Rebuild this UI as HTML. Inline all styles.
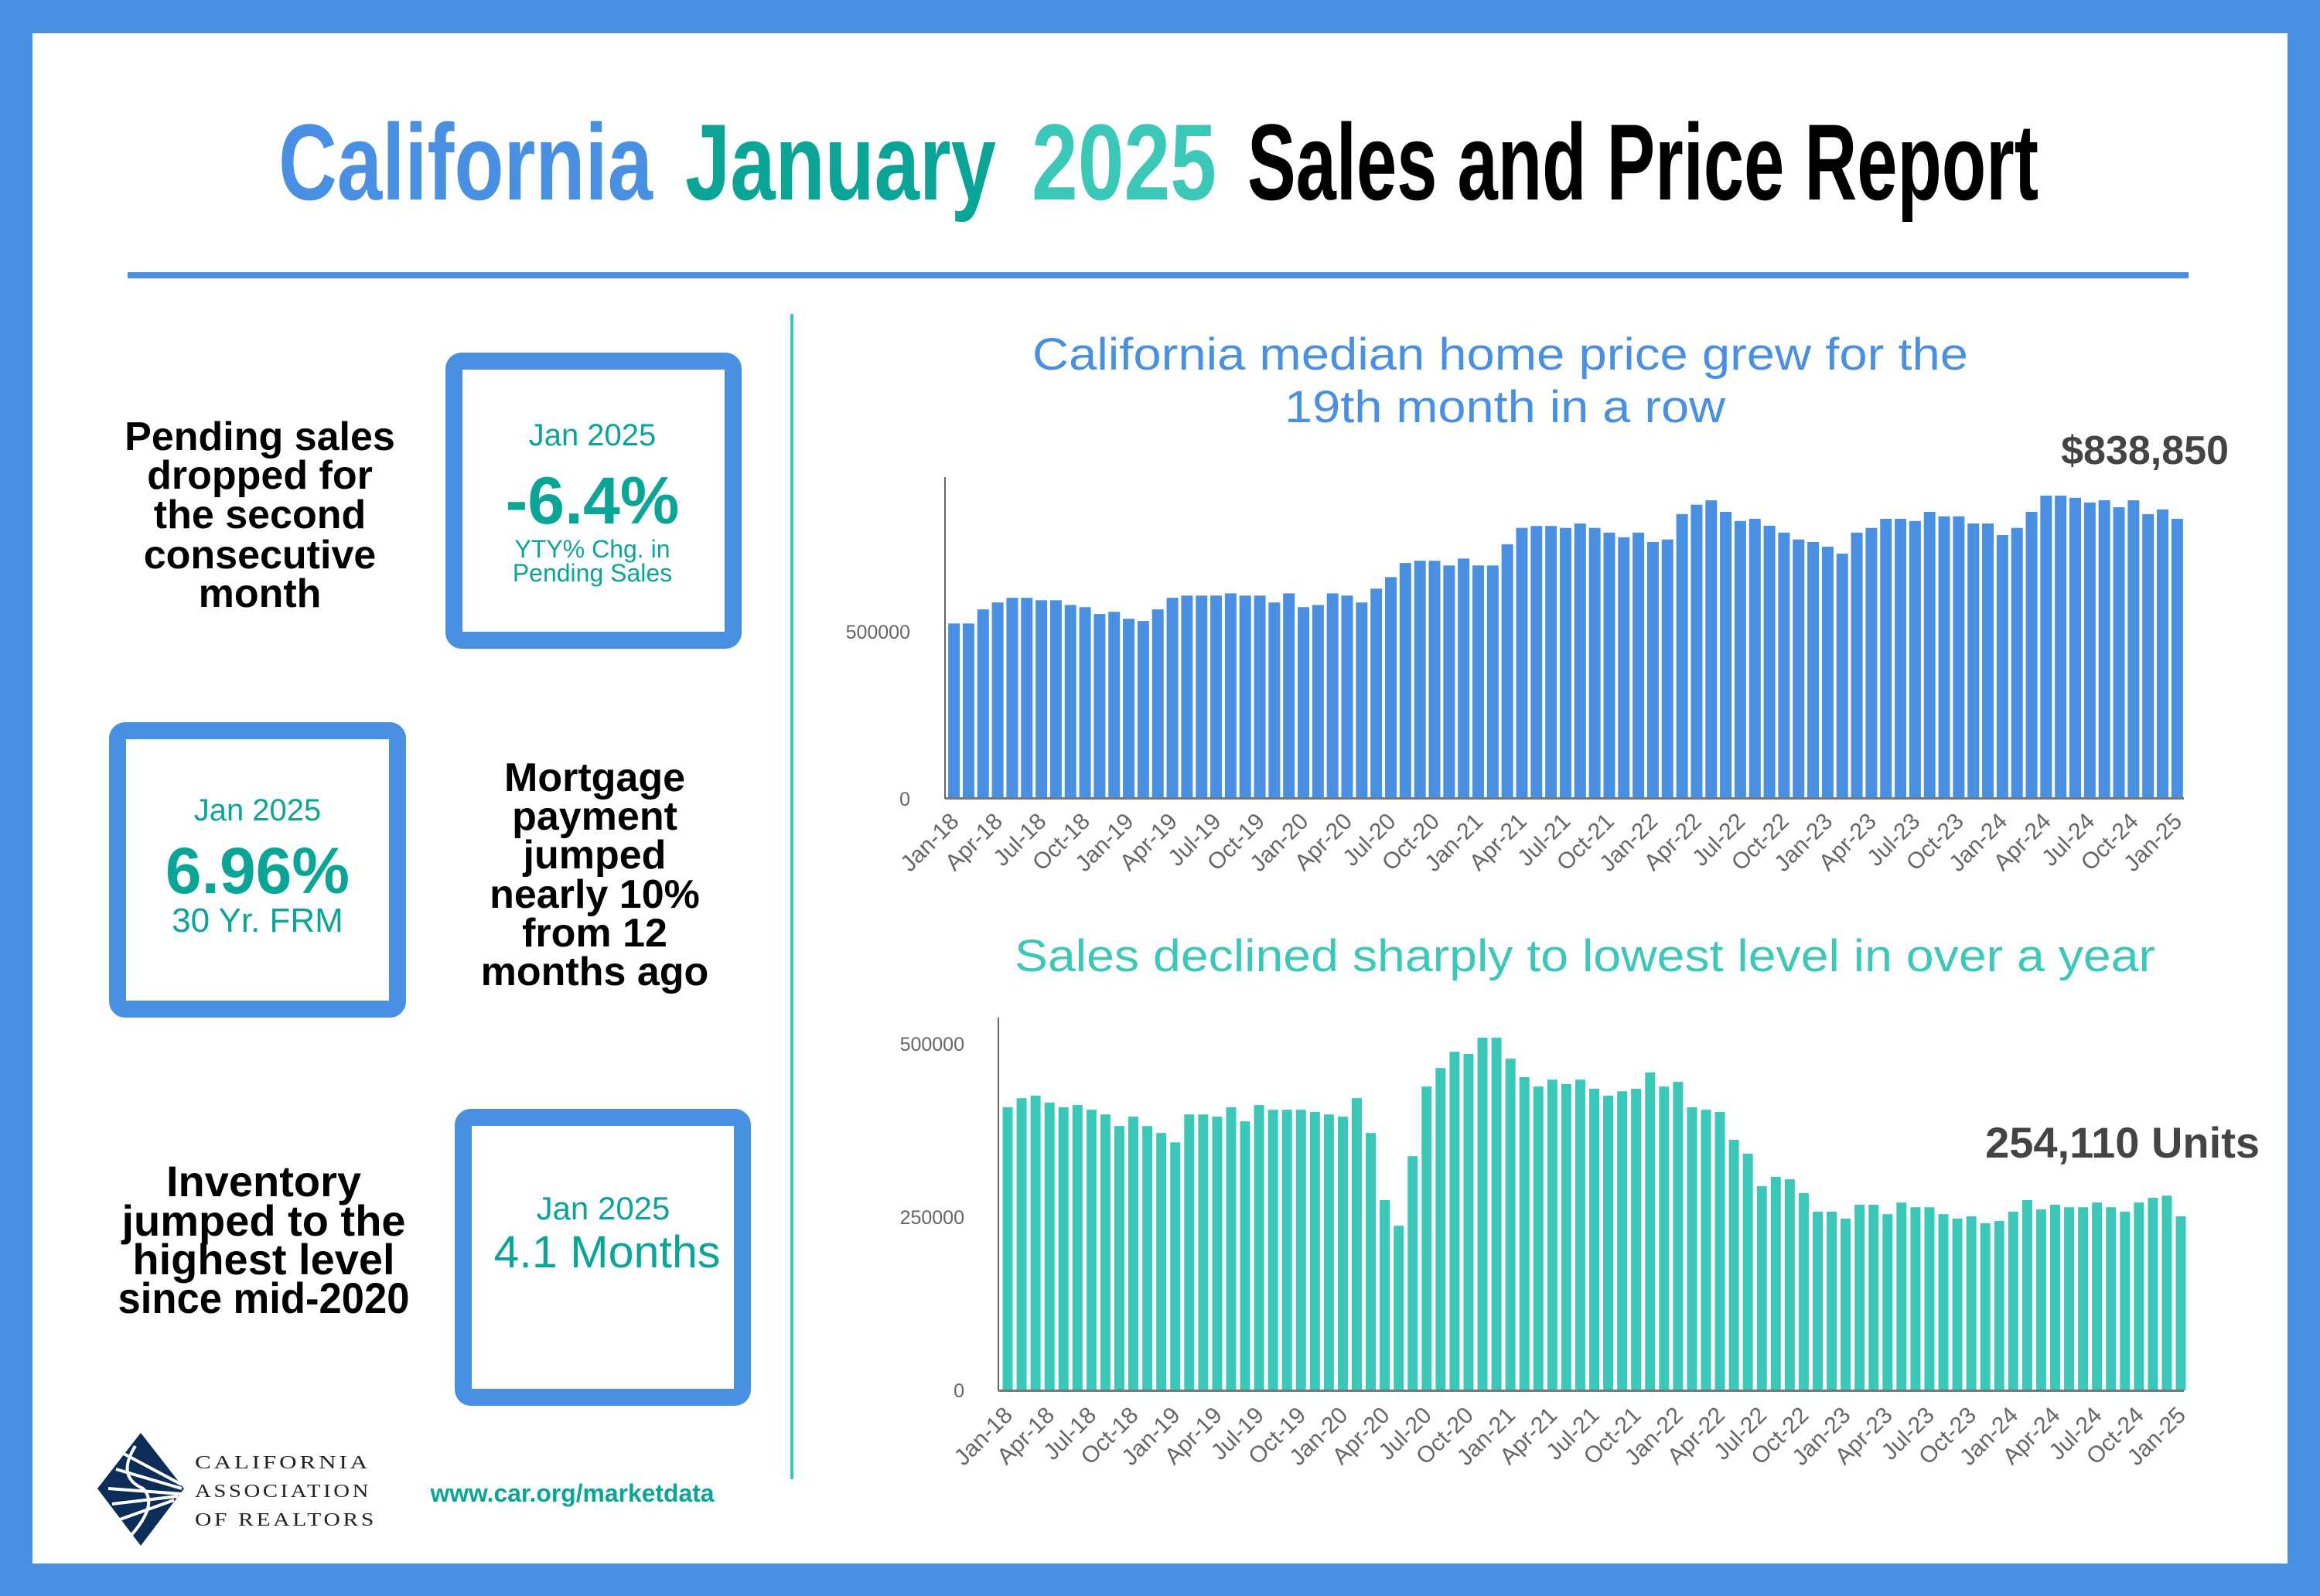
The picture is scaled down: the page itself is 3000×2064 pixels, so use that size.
<!DOCTYPE html>
<html><head><meta charset="utf-8">
<style>
html,body{margin:0;padding:0;background:#fff;}
svg{display:block;}
</style></head>
<body>
<svg id="s" xmlns="http://www.w3.org/2000/svg" width="3000" height="2064" viewBox="0 0 3000 2064">
<rect x="0" y="0" width="3000" height="2064" fill="#4A90E2"/>
<rect x="42" y="43" width="2916" height="1979" fill="#fff"/>
<g font-family="'Liberation Sans Narrow','Liberation Sans',sans-serif" font-weight="bold" font-size="140">
<text x="360" y="258" fill="#4A90E2" textLength="484" lengthAdjust="spacingAndGlyphs">California</text>
<text x="886" y="258" fill="#0AA596" textLength="402" lengthAdjust="spacingAndGlyphs">January</text>
<text x="1334" y="258" fill="#3CC8B8" textLength="239" lengthAdjust="spacingAndGlyphs">2025</text>
<text x="1613" y="258" fill="#000" textLength="1023" lengthAdjust="spacingAndGlyphs">Sales and Price Report</text>
</g>
<rect x="165" y="352" width="2665" height="8" fill="#4A90E2"/>
<rect x="1022" y="406" width="4" height="1507" fill="#3CC8B8"/>

<g font-family="'Liberation Sans',sans-serif" font-size="58" fill="#4A90E2">
<text x="1335" y="478" textLength="1210" lengthAdjust="spacingAndGlyphs">California median home price grew for the</text>
<text x="1661" y="546" textLength="570" lengthAdjust="spacingAndGlyphs">19th month in a row</text>
</g>
<text x="1312" y="1256" font-family="'Liberation Sans',sans-serif" font-size="58" fill="#3CC8B8" textLength="1475" lengthAdjust="spacingAndGlyphs">Sales declined sharply to lowest level in over a year</text>

<g font-family="'Liberation Sans',sans-serif" font-weight="bold" fill="#000" font-size="52" text-anchor="middle">
<text x="336" y="582">Pending sales</text>
<text x="336" y="632">dropped for</text>
<text x="336" y="683">the second</text>
<text x="336" y="735">consecutive</text>
<text x="336" y="785">month</text>
<text x="769" y="1023">Mortgage</text>
<text x="769" y="1073">payment</text>
<text x="769" y="1123">jumped</text>
<text x="769" y="1174">nearly 10%</text>
<text x="769" y="1224">from 12</text>
<text x="769" y="1274">months ago</text>
</g>
<g font-family="'Liberation Sans Narrow','Liberation Sans',sans-serif" font-weight="bold" fill="#000" font-size="56" text-anchor="middle">
<text x="341" y="1547">Inventory</text>
<text x="341" y="1598">jumped to the</text>
<text x="341" y="1648">highest level</text>
<text x="341" y="1698" textLength="377" lengthAdjust="spacingAndGlyphs">since mid-2020</text>
</g>

<g fill="none" stroke="#4A90E2" stroke-width="22">
<rect x="587" y="467" width="361" height="361" rx="10"/>
<rect x="152" y="945" width="362" height="360" rx="10"/>
<rect x="599" y="1445" width="361" height="362" rx="10"/>
</g>
<g font-family="'Liberation Sans',sans-serif" fill="#0AA596" text-anchor="middle">
<text x="766" y="576" font-size="40">Jan 2025</text>
<text x="766" y="677" font-size="86" font-weight="bold">-6.4%</text>
<text x="766" y="721" font-size="32">YTY% Chg. in</text>
<text x="766" y="752" font-size="32">Pending Sales</text>
<text x="333" y="1061" font-size="40">Jan 2025</text>
<text x="333" y="1155" font-size="84" font-weight="bold">6.96%</text>
<text x="333" y="1205" font-size="44">30 Yr. FRM</text>
<text x="780" y="1577" font-size="42">Jan 2025</text>
<text x="785" y="1639" font-size="58" textLength="293" lengthAdjust="spacingAndGlyphs">4.1 Months</text>
<text x="740" y="1942" font-size="32" font-weight="bold" textLength="367" lengthAdjust="spacingAndGlyphs">www.car.org/marketdata</text>
</g>

<g fill="#0C2D57">
<polygon points="182,1853 238,1925 182,1999 126,1925" />
</g>
<g stroke="#fff" stroke-width="4">
<line x1="160" y1="1880" x2="235" y2="1920"/>
<line x1="150" y1="1900" x2="235" y2="1925"/>
<line x1="140" y1="1925" x2="235" y2="1932"/>
<line x1="145" y1="1945" x2="230" y2="1935"/>
<line x1="155" y1="1965" x2="225" y2="1940"/>
<path d="M175 1870 Q150 1910 185 1925 Q205 1945 170 1985" fill="none"/>
</g>
<g font-family="'Liberation Serif',serif" font-size="24" fill="#222" letter-spacing="3">
<text x="252" y="1899" textLength="227" lengthAdjust="spacingAndGlyphs">CALIFORNIA</text>
<text x="252" y="1936" textLength="228" lengthAdjust="spacingAndGlyphs">ASSOCIATION</text>
<text x="252" y="1973" textLength="235" lengthAdjust="spacingAndGlyphs">OF REALTORS</text>
</g>

<g id="top"></g>
<rect x="1221" y="617" width="2" height="416" fill="#666"/>
<rect x="1222" y="1031" width="1602" height="3" fill="#777"/>
<g font-family="'Liberation Sans',sans-serif" font-size="25" fill="#666" text-anchor="end">
<text x="1177" y="826">500000</text>
<text x="1177" y="1042">0</text>
<text x="1247" y="1359">500000</text>
<text x="1247" y="1583">250000</text>
<text x="1247" y="1807">0</text>
</g>
<text x="2882" y="600" font-family="'Liberation Sans',sans-serif" font-weight="bold" font-size="52" fill="#444" text-anchor="end">$838,850</text>
<text x="2922" y="1497" font-family="'Liberation Sans Narrow','Liberation Sans',sans-serif" font-weight="bold" font-size="56" fill="#444" text-anchor="end">254,110 Units</text>

<g id="bot"></g>
<rect x="1290" y="1316" width="2" height="483" fill="#666"/>
<rect x="1291" y="1797" width="1533" height="3" fill="#777"/>
<g id="lbl" font-family="'Liberation Sans',sans-serif" font-size="30" fill="#666" text-anchor="end"></g>
</svg>
<script>
var NS="http://www.w3.org/2000/svg";
var T=[578,578,527,502,485,485,494,494,511,519,544,536,561,569,527,485,477,477,477,469,477,477,502,469,519,511,469,477,502,452,410,359,351,351,368,343,368,368,291,232,225,225,232,216,232,249,266,249,283,274,182,148,132,174,207,199,224,249,274,283,300,325,249,232,199,199,207,174,190,190,216,216,258,232,174,115,115,123,140,132,157,132,182,165,199];
var B=[370,337,328,353,370,362,379,396,438,404,438,463,497,396,396,404,370,421,362,379,379,379,387,396,404,337,463,706,799,547,295,228,169,177,118,118,194,261,295,270,286,270,303,328,312,303,244,295,278,370,379,387,488,538,656,622,631,681,748,748,773,723,723,757,715,732,732,757,773,765,790,782,748,706,740,723,732,732,715,732,748,715,698,690,765];
function r(g,x,y,w,h,c){var e=document.createElementNS(NS,"rect");e.setAttribute("x",x);e.setAttribute("y",y);e.setAttribute("width",w);e.setAttribute("height",h);e.setAttribute("fill",c);g.appendChild(e);}
var gt=document.getElementById("top"),gb=document.getElementById("bot"),gl=document.getElementById("lbl");
var M=["Jan","Apr","Jul","Oct"];
for(var i=0;i<85;i++){
 var cx=1233.6+i*18.83,h=(1210-T[i])/2.8;
 r(gt,cx-7.5,1032-h,15,h,"#4A90E2");
 var bx=1303+i*18.06,hb=(1395-B[i])/2.8;
 r(gb,bx-6.5,1798-hb,13,hb,"#3CC8B8");
 if(i%3==0){
  var lab=M[(i/3)%4]+"-"+(18+Math.floor(i/12));
  var t=document.createElementNS(NS,"text");
  t.setAttribute("transform","translate("+(cx+8)+",1064) rotate(-45)");t.textContent=lab;gl.appendChild(t);
  var t2=document.createElementNS(NS,"text");
  t2.setAttribute("transform","translate("+(bx+8)+",1832) rotate(-45)");t2.textContent=lab;gl.appendChild(t2);
 }
}
</script>
</body></html>
